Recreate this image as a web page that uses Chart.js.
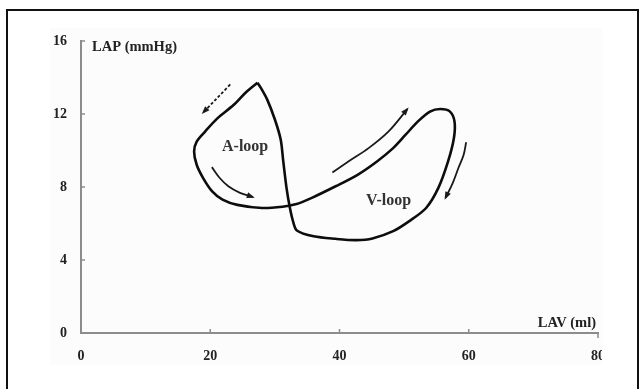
<!DOCTYPE html>
<html>
<head>
<meta charset="utf-8">
<script src="https://cdn.jsdelivr.net/npm/chart.js@4.4.1/dist/chart.umd.min.js"></script>
<style>
  html, body { margin: 0; padding: 0; background: #fff; }
  body { width: 643px; height: 389px; position: relative; overflow: hidden; }
  #frame { position: absolute; left: 6px; top: 9px; width: 629px; height: 420px; border: 2px solid #111; }
  #plot { position: absolute; left: 50px; top: 28px; width: 552px; height: 337px; overflow: hidden; background: #fcfcfc; }
  #box { position: absolute; left: -50px; top: -28px; width: 643px; height: 389px; }
</style>
</head>
<body>
<div id="frame"></div>
<div id="plot"><div id="box"><canvas id="c"></canvas></div></div>
<script>
// Left atrial pressure-volume loop: volume (ml) against pressure (mmHg)
const loopLAV = [27.3, 25.5, 23.6, 21.1, 19.2, 17.9, 17.5, 17.9, 18.9, 20.3, 21.9, 24.2, 28.0, 31.2, 33.2,
                 35.8, 39.4, 42.8, 45.8, 48.3, 50.2, 52.1, 54.0, 55.6, 57.1, 57.8, 57.7, 56.8, 55.3,
                 53.4, 50.8, 48.3, 45.1, 42.6, 39.4, 36.0, 33.4, 32.8, 32.3, 31.8, 31.3, 30.9, 30.0, 28.8, 27.8, 27.3];
const loopLAP = [13.71, 13.18, 12.49, 11.76, 11.04, 10.49, 9.95, 9.22, 8.49, 7.76, 7.31, 7.02, 6.85, 6.92, 7.05,
                 7.42, 8.04, 8.67, 9.40, 10.13, 10.85, 11.58, 12.13, 12.27, 12.13, 11.58, 10.67, 9.40, 7.95,
                 6.85, 6.13, 5.58, 5.18, 5.09, 5.16, 5.30, 5.62, 6.13, 6.90, 7.95, 9.40, 10.60, 11.70, 12.80, 13.45, 13.71];

// Direction arrows (last point carries the head)
const arrowA1LAV = [23.1, 18.9];
const arrowA1LAP = [13.62, 12.08];
const arrowA2LAV = [20.25, 21.4, 22.8, 24.6, 26.6];
const arrowA2LAP = [9.09, 8.52, 8.04, 7.68, 7.45];
const arrowV1LAV = [38.9, 41.6, 44.5, 47.6, 50.5];
const arrowV1LAP = [8.80, 9.45, 10.13, 11.05, 12.27];
const arrowV2LAV = [59.6, 59.2, 58.4, 57.5, 56.4];
const arrowV2LAP = [10.45, 9.75, 9.04, 8.20, 7.40];

// In-plot labels
const loopNames = ['A-loop', 'V-loop'];
const loopNameLAV = [25.4, 47.6];
const loopNameLAP = [10.2, 7.25];

// Axis ticks and titles
const lavTicks = [0, 20, 40, 60, 80];
const lapTicks = [0, 4, 8, 12, 16];
const lavTitle = 'LAV (ml)';
const lapTitle = 'LAP (mmHg)';

const zip = (xs, ys) => xs.map((x, i) => ({ x: x, y: ys[i] }));
const serifFamily = '"Liberation Serif", "Times New Roman", serif';

const arrowSet = (xs, ys, dash) => ({
  data: zip(xs, ys), showLine: true, borderColor: '#1a1a1a', borderWidth: 1.8,
  pointRadius: 0, tension: 0.35, borderDash: dash || [], arrow: true
});

const decorations = {
  id: 'decorations',
  afterDatasetsDraw(chart) {
    const ctx = chart.ctx;
    const xs = chart.scales.x, ys = chart.scales.y;
    ctx.save();
    // arrow heads
    chart.data.datasets.forEach((ds, i) => {
      if (!ds.arrow) return;
      const pts = chart.getDatasetMeta(i).data;
      const a = pts[pts.length - 2], b = pts[pts.length - 1];
      const ang = Math.atan2(b.y - a.y, b.x - a.x);
      const len = 6, half = 3;
      ctx.fillStyle = '#1a1a1a';
      ctx.beginPath();
      ctx.moveTo(b.x + Math.cos(ang) * 2, b.y + Math.sin(ang) * 2);
      ctx.lineTo(b.x - Math.cos(ang) * len + Math.sin(ang) * half, b.y - Math.sin(ang) * len - Math.cos(ang) * half);
      ctx.lineTo(b.x - Math.cos(ang) * len - Math.sin(ang) * half, b.y - Math.sin(ang) * len + Math.cos(ang) * half);
      ctx.closePath();
      ctx.fill();
    });
    // loop names
    ctx.font = 'bold 16px ' + serifFamily;
    ctx.fillStyle = '#333';
    ctx.textAlign = 'center';
    ctx.textBaseline = 'middle';
    loopNames.forEach((t, i) => {
      ctx.fillText(t, xs.getPixelForValue(loopNameLAV[i]), ys.getPixelForValue(loopNameLAP[i]));
    });
    // short inward tick marks on both axes
    ctx.strokeStyle = '#8c8c8c';
    ctx.lineWidth = 1.5;
    const x0 = xs.getPixelForValue(0), y0 = ys.getPixelForValue(0);
    lavTicks.slice(1, -1).forEach(v => {
      const px = xs.getPixelForValue(v);
      ctx.beginPath(); ctx.moveTo(px, y0); ctx.lineTo(px, y0 - 4); ctx.stroke();
    });
    lapTicks.slice(1).forEach(v => {
      const py = ys.getPixelForValue(v);
      ctx.beginPath(); ctx.moveTo(x0, py); ctx.lineTo(x0 + 4, py); ctx.stroke();
    });
    const xEnd = xs.getPixelForValue(80);
    ctx.beginPath(); ctx.moveTo(xEnd, y0); ctx.lineTo(xEnd, y0 + 5); ctx.stroke();
    // axis titles
    ctx.font = 'bold 14.5px ' + serifFamily;
    ctx.fillStyle = '#222';
    ctx.textAlign = 'left';
    ctx.fillText(lapTitle, x0 + 11, ys.getPixelForValue(16) + 6);
    ctx.textAlign = 'right';
    ctx.fillText(lavTitle, xEnd - 2, y0 - 10);
    ctx.restore();
  }
};

new Chart(document.getElementById('c'), {
  type: 'scatter',
  data: {
    datasets: [
      { data: zip(loopLAV, loopLAP), showLine: true, borderColor: '#0d0d0d', borderWidth: 2.6,
        pointRadius: 0, tension: 0.3 },
      arrowSet(arrowA1LAV, arrowA1LAP, [3, 2]),
      arrowSet(arrowA2LAV, arrowA2LAP),
      arrowSet(arrowV1LAV, arrowV1LAP),
      arrowSet(arrowV2LAV, arrowV2LAP)
    ]
  },
  options: {
    responsive: true,
    maintainAspectRatio: false,
    animation: false,
    layout: { padding: { left: 0, top: 41, right: 45, bottom: 0 } },
    plugins: { legend: { display: false }, tooltip: { enabled: false } },
    scales: {
      x: {
        type: 'linear', min: 0, max: 80,
        afterBuildTicks: s => { s.ticks = lavTicks.map(v => ({ value: v })); },
        afterFit: s => { s.height = 56; },
        grid: { display: false, drawTicks: false },
        border: { display: true, color: '#8c8c8c', width: 2 },
        ticks: { padding: 15, color: '#222', font: { family: serifFamily, size: 14, weight: 'bold' }, maxRotation: 0 }
      },
      y: {
        type: 'linear', min: 0, max: 16,
        afterBuildTicks: s => { s.ticks = lapTicks.map(v => ({ value: v })); },
        afterFit: s => { s.width = 81; },
        grid: { display: false, drawTicks: false },
        border: { display: true, color: '#8c8c8c', width: 2 },
        ticks: { padding: 14, color: '#222', font: { family: serifFamily, size: 14, weight: 'bold' } }
      }
    }
  },
  plugins: [decorations]
});
</script>
</body>
</html>
